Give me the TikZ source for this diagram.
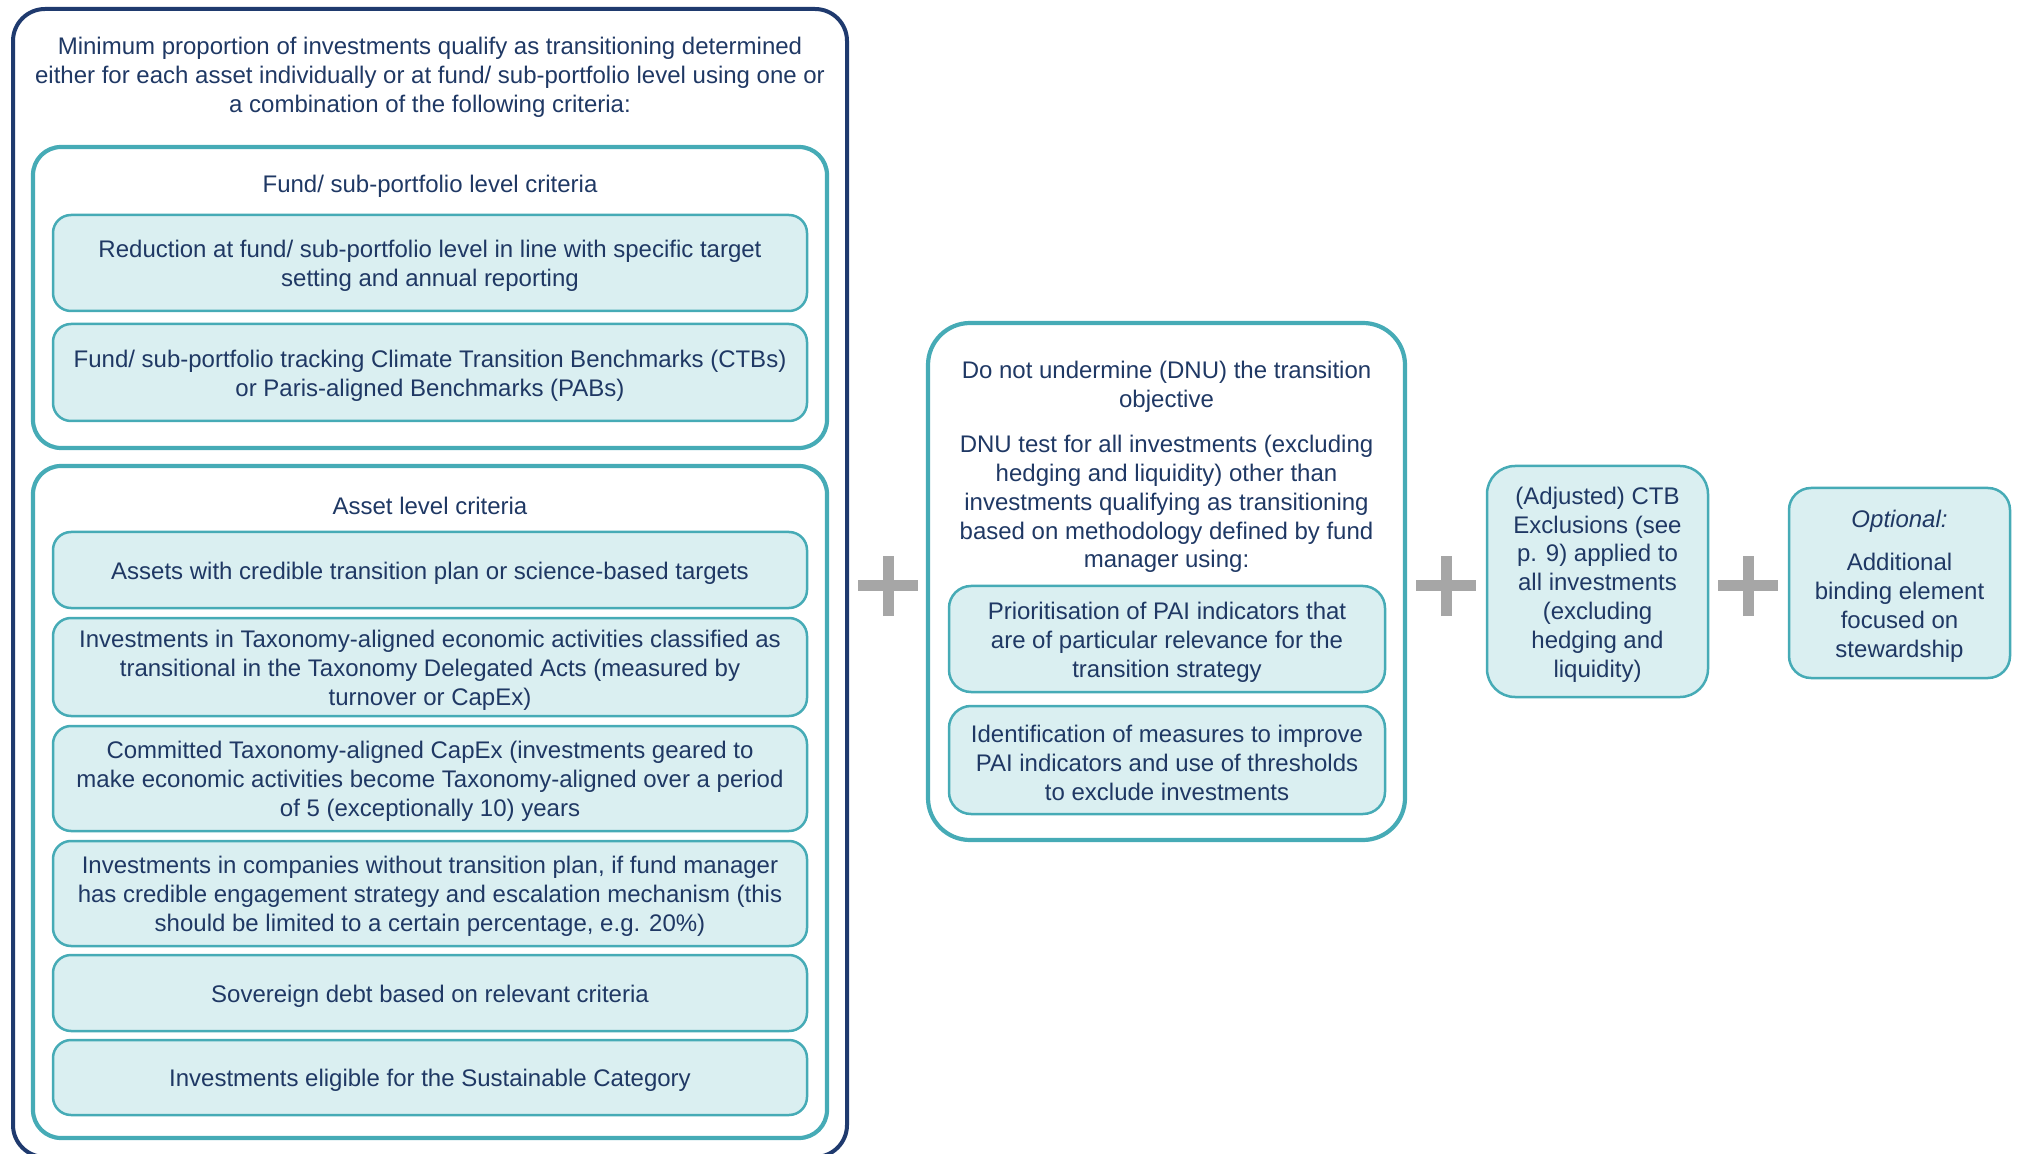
\documentclass[tikz,border=0pt]{standalone}
\usepackage{fontspec}
\setmainfont{Liberation Sans}
\definecolor{navyline}{HTML}{1F3A6E}
\definecolor{navytext}{HTML}{1F3864}
\definecolor{tealline}{HTML}{46ABB6}
\definecolor{tealfill}{HTML}{DAEFF1}
\definecolor{plusgray}{HTML}{A6A6A6}
\tikzset{
  txt/.style={align=center, text=navytext, font=\fontsize{12pt}{14.4pt}\selectfont, inner sep=0pt, yshift=-1.5pt},
  outerbox/.style={draw=navyline, line width=2pt, rounded corners=16pt, minimum width=417pt, inner sep=0pt},
  groupbox/.style={draw=tealline, line width=2.1pt, rounded corners=14pt, inner sep=0pt},
  itembox/.style={draw=tealline, fill=tealfill, line width=1.25pt, rounded corners=9pt, inner sep=0pt},
  plusline/.style={draw=plusgray, line width=5.5pt},
}
\begin{document}
\begin{tikzpicture}[x=0.5pt,y=-0.5pt]
\useasboundingbox (0,0) rectangle (2018,1154);
% left column
\node[outerbox, minimum height=574pt] (outer) at (430,583) {};
\node[txt] (title) at (430,74.5) {Minimum proportion of investments qualify as transitioning determined\\either for each asset individually or at fund/ sub-portfolio level using one or\\a combination of the following criteria:};
\node[groupbox, minimum width=397pt, minimum height=150.5pt] (fund) at (430,297.5) {};
\node[txt] (fundtitle) at (430,183) {Fund/ sub-portfolio level criteria};
\node[itembox, minimum width=377pt, minimum height=48pt] (r1) at (430,263) {};
\node[txt] (r1t) at (r1.center) {Reduction at fund/ sub-portfolio level in line with specific target\\setting and annual reporting};
\node[itembox, minimum width=377pt, minimum height=48.5pt] (r2) at (430,372.5) {};
\node[txt] (r2t) at (r2.center) {Fund/ sub-portfolio tracking Climate Transition Benchmarks (CTBs)\\or Paris-aligned Benchmarks (PABs)};
\node[groupbox, minimum width=397pt, minimum height=336pt] (asset) at (430,802) {};
\node[txt] (assettitle) at (430,503) {Asset level criteria};
\node[itembox, minimum width=377pt, minimum height=38pt] (a1) at (430,570) {};
\node[txt] (a1t) at (a1.center) {Assets with credible transition plan or science-based targets};
\node[itembox, minimum width=377pt, minimum height=49pt] (a2) at (430,667) {};
\node[txt] (a2t) at (a2.center) {Investments in Taxonomy-aligned economic activities classified as\\transitional in the Taxonomy Delegated Acts (measured by\\turnover or CapEx)};
\node[itembox, minimum width=377pt, minimum height=52.5pt] (a3) at (430,778.5) {};
\node[txt] (a3t) at (a3.center) {Committed Taxonomy-aligned CapEx (investments geared to\\make economic activities become Taxonomy-aligned over a period\\of 5 (exceptionally 10) years};
\node[itembox, minimum width=377pt, minimum height=52.5pt] (a4) at (430,893.5) {};
\node[txt] (a4t) at (a4.center) {Investments in companies without transition plan, if fund manager\\has credible engagement strategy and escalation mechanism (this\\should be limited to a certain percentage, e.g. 20\%)};
\node[itembox, minimum width=377pt, minimum height=38pt] (a5) at (430,993) {};
\node[txt] (a5t) at (a5.center) {Sovereign debt based on relevant criteria};
\node[itembox, minimum width=377pt, minimum height=37.5pt] (a6) at (430,1077.5) {};
\node[txt] (a6t) at (a6.center) {Investments eligible for the Sustainable Category};
% plus 1
\coordinate (p1) at (888,586);
\draw[plusline] ([xshift=-15pt]p1) -- ([xshift=15pt]p1);
\draw[plusline] ([yshift=-15pt]p1) -- ([yshift=15pt]p1);
% DNU box
\node[groupbox, rounded corners=21pt, minimum width=238.5pt, minimum height=258.5pt] (dnu) at (1166.5,581.5) {};
\node[txt] (dnutitle) at (1166.5,383.5) {Do not undermine (DNU) the transition\\objective};
\node[txt] (dnubody) at (1166.5,501) {DNU test for all investments (excluding\\hedging and liquidity) other than\\investments qualifying as transitioning\\based on methodology defined by fund\\manager using:};
\node[itembox, rounded corners=11pt, minimum width=218pt, minimum height=53pt] (pa1) at (1167,639) {};
\node[txt] (pa1t) at (pa1.center) {Prioritisation of PAI indicators that\\are of particular relevance for the\\transition strategy};
\node[itembox, rounded corners=11pt, minimum width=218pt, minimum height=54pt] (pa2) at (1167,760) {};
\node[txt] (pa2t) at (pa2.center) {Identification of measures to improve\\PAI indicators and use of thresholds\\to exclude investments};
% plus 2
\coordinate (p2) at (1446,586);
\draw[plusline] ([xshift=-15pt]p2) -- ([xshift=15pt]p2);
\draw[plusline] ([yshift=-15pt]p2) -- ([yshift=15pt]p2);
% CTB box
\node[itembox, rounded corners=14pt, minimum width=110.5pt, minimum height=115.5pt] (ctb) at (1597.5,581.5) {};
\node[txt] (ctbt) at (ctb.center) {(Adjusted) CTB\\Exclusions (see\\p. 9) applied to\\all investments\\(excluding\\hedging and\\liquidity)};
% plus 3
\coordinate (p3) at (1748,586);
\draw[plusline] ([xshift=-15pt]p3) -- ([xshift=15pt]p3);
\draw[plusline] ([yshift=-15pt]p3) -- ([yshift=15pt]p3);
% optional box
\node[itembox, rounded corners=11pt, minimum width=110.5pt, minimum height=95pt] (opt) at (1899.5,583) {};
\node[txt] (optt) at (opt.center) {\textit{Optional:}\\[7.5pt]Additional\\binding element\\focused on\\stewardship};
\end{tikzpicture}
\end{document}
